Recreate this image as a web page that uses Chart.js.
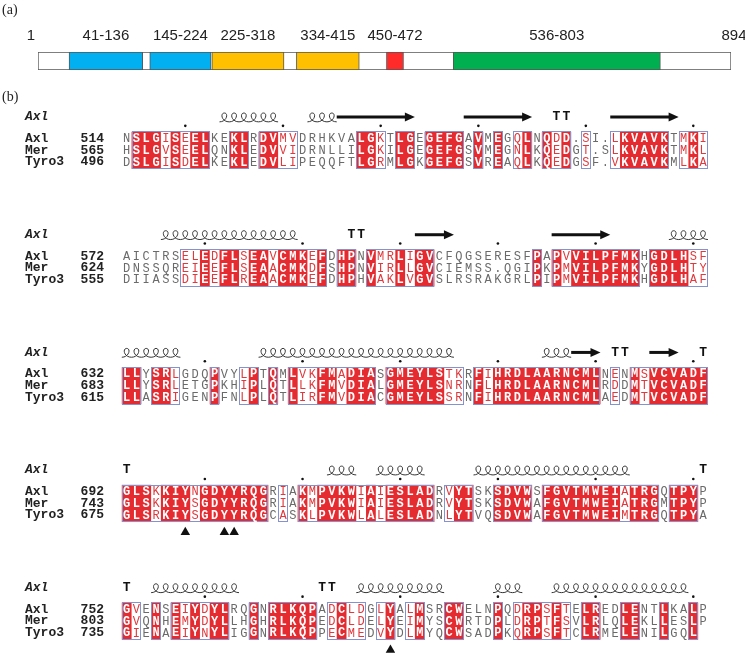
<!DOCTYPE html>
<html>
<head>
<meta charset="utf-8">
<script src="https://cdn.jsdelivr.net/npm/chart.js@4.4.0/dist/chart.umd.min.js"></script>
<style>
  html, body { margin: 0; padding: 0; background: #fff; }
  #page { position: relative; width: 745px; height: 659px; }
  #boxA { position: absolute; left: 0; top: 0; width: 745px; height: 85px; }
  #boxB { position: absolute; left: 0; top: 85px; width: 745px; height: 574px; }
</style>
</head>
<body>
<div id="page">
  <div id="boxA"><canvas id="domains"></canvas></div>
  <div id="boxB"><canvas id="alignment"></canvas></div>
</div>
<script>
// (a) domain map of Axl
var proteinLength = 894;
var domainStarts = [41, 145, 225, 334, 450, 536];
var domainEnds = [136, 224, 318, 415, 472, 803];
var domainColors = ['#00b0f0', '#00b0f0', '#ffc000', '#ffc000', '#ff2b2b', '#00b050'];

// (b) alignment, 60 columns per block
var seqNames = ['Axl', 'Mer', 'Tyro3'];
var axlStarts = [514, 572, 632, 692, 752];
var merStarts = [565, 624, 683, 743, 803];
var tyroStarts = [496, 555, 615, 675, 735];
var axlBlocks = [
  'NSLGISEELKEKLRDVMVDRHKVALGKTLGEGEFGAVMEGQLNQDD.SI.LKVAVKTMKI',
  'AICTRSELEDFLSEAVCMKEFDHPNVMRLIGVCFQGSERESFPAPVVILPFMKHGDLHSF',
  'LLYSRLGDQPVYLPTQMLVKFMADIASGMEYLSTKRFIHRDLAARNCMLNENMSVCVADF',
  'GLSKKIYNGDYYRQGRIAKMPVKWIAIESLADRVYTSKSDVWSFGVTMWEIATRGQTPYP',
  'GVENSEIYDYLRQGNRLKQPADCLDGLYALMSRCWELNPQDRPSFTELREDLENTLKALP'
];
var merBlocks = [
  'HSLGVSEELQNKLEDVVIDRNLLILGKILGEGEFGSVMEGNLKQEDGT.SLKVAVKTMKL',
  'DNSSQREIEEFLSEAACMKDFSHPNVIRLLGVCIEMSS.QGIPKPMVILPFMKYGDLHTY',
  'LLYSRLETGPKHIPLQTLLKFMVDIALGMEYLSNRNFLHRDLAARNCMLRDDMTVCVADF',
  'GLSKKIYSGDYYRQGRIAKMPVKWIAIESLADRVYTSKSDVWAFGVTMWEIATRGMTPYP',
  'GVQNHEMYDYLLHGHRLKQPEDCLDELYEIMYSCWRTDPLDRPTFSVLRLQLEKLLESLP'
];
var tyroBlocks = [
  'DSLGISDELKEKLEDVLIPEQQFTLGRMLGKGEFGSVREAQLKQEDGSF.VKVAVKMLKA',
  'DIIASSDIEEFLREAACMKEFDHPHVAKLVGVSLRSRAKGRLPIPMVILPFMKHGDLHAF',
  'LLASRIGENPFNLPLQTLIRFMVDIACGMEYLSSRNFIHRDLAARNCMLAEDMTVCVADF',
  'GLSRKIYSGDYYRQGCASKLPVKWLALESLADNLYTVQSDVWAFGVTMWEIMTRGQTPYA',
  'GIENAEIYNYLIGGNRLKQPPECMEDVYDLMYQCWSADPKQRPSFTCLRMELENILGQL'
];
// columns with similar (not identical) residues, boxed in blue
var similarCols = [
  [5, 7, 17, 18, 27, 41, 45, 48, 51, 58, 60],
  [7, 8, 10, 13, 16, 20, 27, 28, 30, 46, 59, 60],
  [6, 13, 19, 20, 23, 34, 35, 38, 51, 54],
  [4, 8, 17, 20, 25, 27, 34, 52],
  [2, 7, 9, 22, 24, 25, 27, 30, 41, 44, 46]
];
// Axl secondary structure: [block, first col, last col]
var helixRuns = [[0, 11, 16], [0, 20, 22], [1, 5, 18], [1, 57, 60], [2, 1, 6], [2, 15, 34], [2, 44, 46],
  [3, 22, 24], [3, 27, 31], [3, 37, 52], [4, 4, 12], [4, 25, 33], [4, 39, 41], [4, 45, 58]];
var strandRuns = [[0, 23, 30], [0, 36, 42], [0, 51, 57], [1, 31, 34], [1, 45, 50], [2, 47, 49], [2, 55, 57]];
var turnCols = [[0, 45], [0, 46], [1, 24], [1, 25], [2, 51], [2, 52], [2, 60], [3, 1], [3, 60], [4, 1], [4, 21], [4, 22]];
// marked tyrosines: [block, col]
var markedSites = [[3, 7], [3, 11], [3, 12], [4, 28]];

var monoFont = '"Liberation Mono", "DejaVu Sans Mono", monospace';

// ---------- chart (a) ----------
var domainSets = [{
  data: [[1, proteinLength]],
  backgroundColor: '#ffffff',
  borderColor: '#555555',
  borderWidth: 1,
  borderSkipped: false,
  grouped: false,
  barThickness: 18,
  order: 2
}];
domainStarts.forEach(function (s, i) {
  domainSets.push({
    data: [[s, domainEnds[i]]],
    backgroundColor: domainColors[i],
    borderColor: '#555555',
    borderWidth: 1,
    borderSkipped: false,
    grouped: false,
    barThickness: 18,
    order: 1
  });
});

var domainLabels = {
  id: 'domainLabels',
  afterDraw: function (chart) {
    var ctx = chart.ctx, x = chart.scales.x;
    var ty = chart.chartArea.top - 16;
    ctx.save();
    ctx.fillStyle = '#222';
    ctx.font = '15px "Liberation Sans Narrow", "Liberation Sans", sans-serif';
    ctx.textBaseline = 'middle';
    ctx.textAlign = 'center';
    domainStarts.forEach(function (s, i) {
      ctx.fillText(s + '-' + domainEnds[i], x.getPixelForValue((s + domainEnds[i]) / 2), ty);
    });
    ctx.textAlign = 'right';
    ctx.fillText('1', x.getPixelForValue(1) - 3, ty);
    ctx.textAlign = 'center';
    ctx.fillText(String(proteinLength), x.getPixelForValue(proteinLength) + 3, ty);
    ctx.textAlign = 'left';
    ctx.font = '14px "Liberation Serif", serif';
    ctx.fillText('(a)', 2, 10);
    ctx.restore();
  }
};

new Chart(document.getElementById('domains'), {
  type: 'bar',
  data: { labels: ['Axl'], datasets: domainSets },
  options: {
    indexAxis: 'y',
    animation: false,
    responsive: true,
    maintainAspectRatio: false,
    layout: { padding: { left: 38, right: 14, top: 52, bottom: 15 } },
    scales: {
      x: { display: false, min: 1, max: proteinLength },
      y: { display: false }
    },
    plugins: { legend: { display: false }, tooltip: { enabled: false } }
  },
  plugins: [domainLabels]
});

// ---------- chart (b) ----------
var rowsPerBlock = 10;

function isSimilar(b, c) { return similarCols[b].indexOf(c) >= 0; }
function colChars(b, c) {
  return [axlBlocks[b].charAt(c - 1), merBlocks[b].charAt(c - 1), tyroBlocks[b].charAt(c - 1)];
}
function isIdentical(b, c) {
  var ch = colChars(b, c);
  return ch[0] !== '.' && ch[0] !== '' && ch[0] === ch[1] && ch[1] === ch[2];
}

// dots every ten Axl residues
var dotPoints = [];
axlBlocks.forEach(function (seq, b) {
  var r = axlStarts[b];
  for (var c = 1; c <= seq.length; c++) {
    if (seq.charAt(c - 1) === '.') continue;
    if (r % 10 === 0) dotPoints.push({ x: c, y: b * rowsPerBlock - 1.08 });
    r++;
  }
});
var sitePoints = markedSites.map(function (m) { return { x: m[1], y: m[0] * rowsPerBlock + 3.45 }; });

function runs(b, test) {
  var out = [], start = null;
  for (var c = 1; c <= 61; c++) {
    var ok = c <= 60 && test(b, c);
    if (ok && start === null) start = c;
    if (!ok && start !== null) { out.push([start, c - 1]); start = null; }
  }
  return out;
}

var alignPainter = {
  id: 'alignPainter',
  beforeDatasetsDraw: function (chart) {
    var ctx = chart.ctx, xs = chart.scales.x, ys = chart.scales.y;
    function px(v) { return xs.getPixelForValue(v); }
    function py(v) { return ys.getPixelForValue(v); }
    var pitch = px(2) - px(1);
    ctx.save();
    ctx.textBaseline = 'middle';

    ctx.font = '14px "Liberation Serif", serif';
    ctx.fillStyle = '#222';
    ctx.textAlign = 'left';
    ctx.fillText('(b)', 2, 12);

    axlBlocks.forEach(function (seq, b) {
      var y0 = b * rowsPerBlock;
      var starts = [axlStarts[b], merStarts[b], tyroStarts[b]];
      var seqs = [axlBlocks[b], merBlocks[b], tyroBlocks[b]];

      // row labels
      ctx.fillStyle = '#222';
      ctx.textAlign = 'left';
      ctx.font = 'italic bold 13px ' + monoFont;
      ctx.fillText('Axl', 25, py(y0 - 1.83));
      ctx.font = 'bold 13px ' + monoFont;
      for (var r = 0; r < 3; r++) {
        ctx.textAlign = 'left';
        ctx.fillText(seqNames[r], 25, py(y0 + r));
        ctx.textAlign = 'right';
        ctx.fillText(String(starts[r]), 104, py(y0 + r));
      }

      // red boxes for identical columns
      ctx.fillStyle = '#e52b2f';
      runs(b, isIdentical).forEach(function (run) {
        ctx.fillRect(px(run[0] - 0.5), py(y0 - 0.58), px(run[1] + 0.5) - px(run[0] - 0.5), py(y0 + 2.58) - py(y0 - 0.58));
      });
      // blue frames round conserved stretches
      ctx.strokeStyle = '#8393cf';
      ctx.lineWidth = 1;
      runs(b, function (bb, c) { return isIdentical(bb, c) || isSimilar(bb, c); }).forEach(function (run) {
        var x0 = Math.round(px(run[0] - 0.5)) + 0.5, x1 = Math.round(px(run[1] + 0.5)) - 0.5;
        var ya = Math.round(py(y0 - 0.6)) + 0.5, yb = Math.round(py(y0 + 2.6)) - 0.5;
        ctx.strokeRect(x0, ya, x1 - x0, yb - ya);
      });

      // residues
      ctx.textAlign = 'center';
      for (var c = 1; c <= 60; c++) {
        var ident = isIdentical(b, c), sim = isSimilar(b, c);
        for (var r2 = 0; r2 < 3; r2++) {
          var ch = seqs[r2].charAt(c - 1);
          if (!ch) continue;
          if (ident) { ctx.fillStyle = '#ffffff'; ctx.font = 'bold 12px ' + monoFont; }
          else if (sim) { ctx.fillStyle = '#e0383c'; ctx.font = '12px ' + monoFont; }
          else { ctx.fillStyle = '#6a6a6a'; ctx.font = '12px ' + monoFont; }
          ctx.fillText(ch, px(c), py(y0 + r2) + 0.5);
        }
      }
    });

    // helices
    ctx.strokeStyle = '#333';
    ctx.lineWidth = 1;
    helixRuns.forEach(function (h) {
      var y0 = h[0] * rowsPerBlock;
      var xa = px(h[1] - 0.5), n = h[2] - h[1] + 1, w = pitch;
      var yb = py(y0 - 1.42), yt = py(y0 - 2.17);
      ctx.beginPath();
      ctx.moveTo(xa, yb);
      for (var i = 0; i < n; i++) {
        var s = xa + i * w;
        ctx.bezierCurveTo(s + w * 0.75, yb, s + w * 0.95, yt, s + w * 0.5, yt);
        ctx.bezierCurveTo(s + w * 0.05, yt, s + w * 0.2, yb, s + w, yb);
      }
      ctx.stroke();
    });

    // strands
    ctx.fillStyle = '#111';
    ctx.strokeStyle = '#111';
    strandRuns.forEach(function (s) {
      var y = py(s[0] * rowsPerBlock - 1.83);
      var xa = px(s[1] - 0.5), xb = px(s[2] + 0.5);
      ctx.lineWidth = 3;
      ctx.beginPath();
      ctx.moveTo(xa, y);
      ctx.lineTo(xb - 8, y);
      ctx.stroke();
      ctx.beginPath();
      ctx.moveTo(xb - 10, y - 4.5);
      ctx.lineTo(xb, y);
      ctx.lineTo(xb - 10, y + 4.5);
      ctx.closePath();
      ctx.fill();
    });

    // turns
    ctx.font = 'bold 13px ' + monoFont;
    ctx.textAlign = 'center';
    turnCols.forEach(function (t) {
      ctx.fillText('T', px(t[1]), py(t[0] * rowsPerBlock - 1.83));
    });
    ctx.restore();
  }
};

new Chart(document.getElementById('alignment'), {
  type: 'scatter',
  data: {
    datasets: [
      { data: dotPoints, pointRadius: 1.3, pointStyle: 'circle', backgroundColor: '#111', borderWidth: 0 },
      { data: sitePoints, pointRadius: 5.5, pointStyle: 'triangle', backgroundColor: '#111', borderWidth: 0 }
    ]
  },
  options: {
    animation: false,
    responsive: true,
    maintainAspectRatio: false,
    layout: { padding: 0 },
    scales: {
      x: { type: 'linear', display: false, min: -11.405, max: 63.73 },
      y: { type: 'linear', display: false, reverse: true, min: -4.0833, max: 43.75 }
    },
    plugins: { legend: { display: false }, tooltip: { enabled: false } }
  },
  plugins: [alignPainter]
});
</script>
</body>
</html>
